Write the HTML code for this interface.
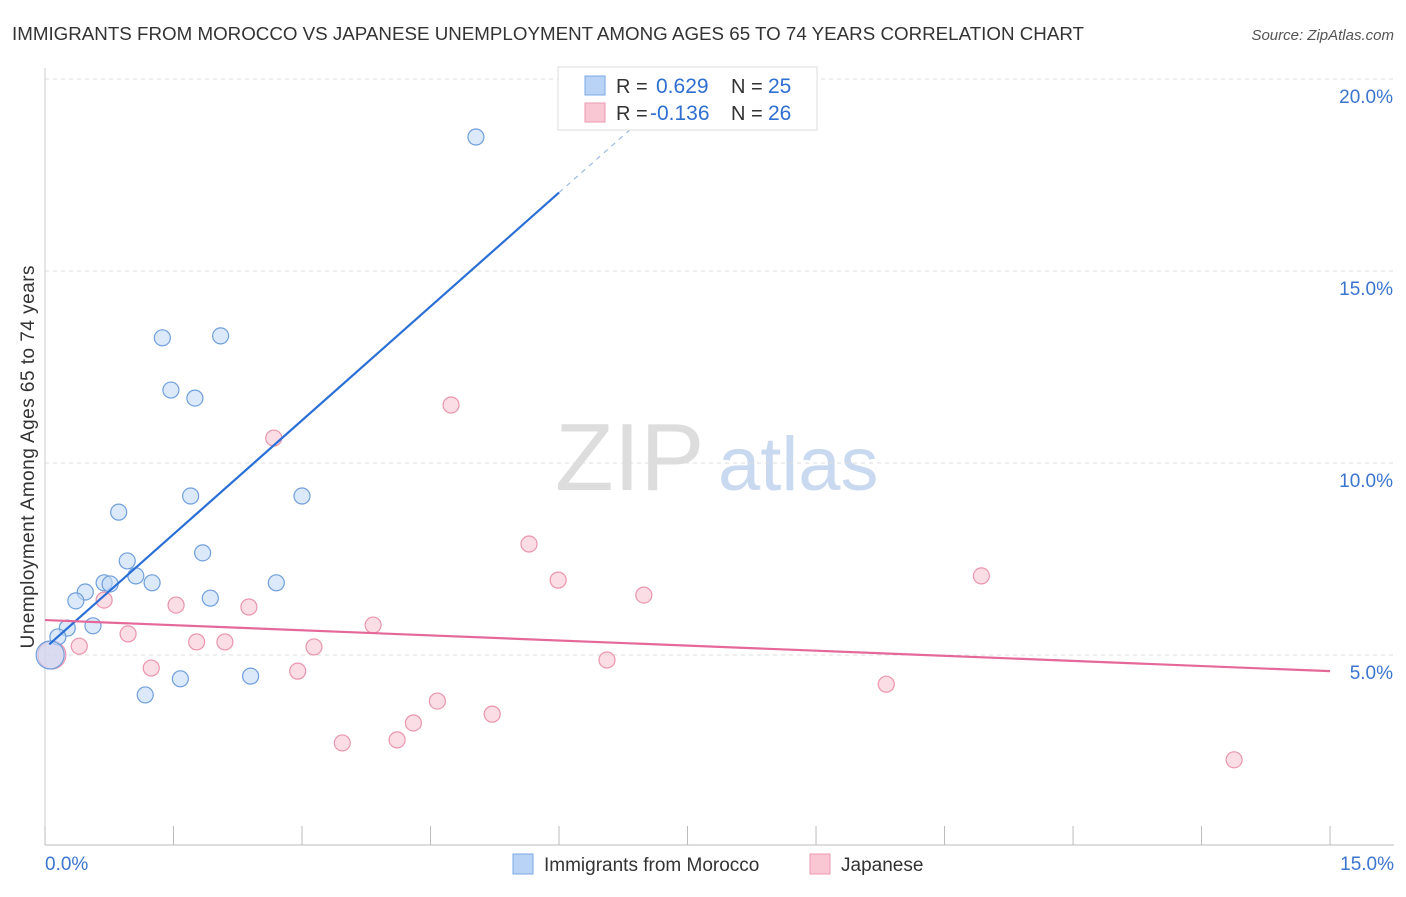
<!DOCTYPE html>
<html><head><meta charset="utf-8"><style>
body{margin:0;background:#fff;font-family:"Liberation Sans",sans-serif;}
svg text{font-family:"Liberation Sans",sans-serif;}
</style></head><body>
<svg id="c" width="1406" height="892" xmlns="http://www.w3.org/2000/svg">
<text x="12" y="40" font-size="18" fill="#333" textLength="1072" lengthAdjust="spacingAndGlyphs">IMMIGRANTS FROM MOROCCO VS JAPANESE UNEMPLOYMENT AMONG AGES 65 TO 74 YEARS CORRELATION CHART</text>
<text x="1394" y="40" font-size="15" fill="#555" font-style="italic" text-anchor="end">Source: ZipAtlas.com</text>
<text x="555" y="490" font-size="96" fill="#ddd" font-family="Liberation Serif">ZIP</text>
<text x="718" y="490" font-size="76" fill="#c9d9ef">atlas</text>
<text transform="translate(34,457) rotate(-90)" font-size="19" fill="#333" text-anchor="middle" textLength="383">Unemployment Among Ages 65 to 74 years</text>
<g id="grid"></g><g id="axes"></g><g id="marks"></g>
<g>
<rect x="558" y="67" width="259" height="63" fill="#fff" stroke="#ddd"/>
<rect x="585" y="76" width="20" height="19" fill="#b8d3f5" stroke="#7aa9e6"/>
<rect x="585" y="103" width="20" height="19" fill="#f9c6d4" stroke="#ee9ab2"/>
<text x="616" y="93" font-size="20" fill="#333">R = </text><text x="656" y="93" font-size="21" fill="#2f6fd0">0.629</text>
<text x="731" y="93" font-size="20" fill="#333">N = </text><text x="768" y="93" font-size="21" fill="#2f6fd0">25</text>
<text x="616" y="120" font-size="20" fill="#333">R = </text><text x="650" y="120" font-size="21" fill="#2f6fd0">-0.136</text>
<text x="731" y="120" font-size="20" fill="#333">N = </text><text x="768" y="120" font-size="21" fill="#2f6fd0">26</text>
</g>
<g>
<rect x="513" y="854" width="20" height="20" fill="#b8d3f5" stroke="#7aa9e6"/>
<text x="544" y="871" font-size="19" fill="#333">Immigrants from Morocco</text>
<rect x="810" y="854" width="20" height="20" fill="#f9c6d4" stroke="#ee9ab2"/>
<text x="841" y="871" font-size="19" fill="#333">Japanese</text>
</g>
</svg>
<script>
const xTicksLabels=["0.0%","15.0%"];
const yTickValues=[5,10,15,20];
const blueX=[5.03,1.37,2.05,1.47,1.75,0.86,1.70,3.00,0.96,1.84,0.69,0.76,1.06,1.25,2.70,0.47,0.36,1.93,0.56,0.26,0.15,0.06,1.17,1.58,2.40];
const blueY=[18.49,13.26,13.31,11.90,11.69,8.72,9.14,9.14,7.45,7.66,6.88,6.85,7.06,6.88,6.88,6.64,6.41,6.48,5.76,5.70,5.47,5.00,3.96,4.38,4.45];
const pinkX=[4.74,2.67,5.65,5.99,6.99,10.93,0.69,1.53,2.38,3.83,0.97,1.77,2.10,0.40,3.14,1.24,2.95,6.56,9.82,4.58,5.22,4.30,4.11,3.47,13.88,0.08];
const pinkY=[11.51,10.65,7.89,6.95,6.56,7.06,6.43,6.30,6.25,5.78,5.55,5.34,5.34,5.23,5.21,4.66,4.58,4.87,4.24,3.80,3.46,3.23,2.79,2.71,2.27,5.00];
const blueTrend=[5.18,1.977];
const pinkTrend=[5.91,-0.0887];
const NS="http://www.w3.org/2000/svg";
const sx=v=>45+v*85.67, sy=v=>847-v*38.4;
function mk(t,a,p){const e=document.createElementNS(NS,t);for(const k in a)e.setAttribute(k,a[k]);p.appendChild(e);return e;}
const grid=document.getElementById('grid'),axes=document.getElementById('axes'),marks=document.getElementById('marks');
yTickValues.forEach(v=>{
 const l=mk('line',{x1:45,x2:1394,y1:sy(v),y2:sy(v),stroke:'#ddd','stroke-dasharray':'4,4'},grid);
 
 const t=mk('text',{x:1393,y:sy(v)+24,'font-size':19,fill:'#3b75cf','text-anchor':'end'},axes);t.textContent=v.toFixed(1)+'%';
 
});
const ax=mk('line',{x1:45,x2:1394,y1:845,y2:845,stroke:'#bbb'},axes);

const ay=mk('line',{x1:45,x2:45,y1:68,y2:845,stroke:'#ccc'},axes);

for(let i=0;i<=10;i++){const tk=mk('line',{x1:sx(i*1.5),x2:sx(i*1.5),y1:826,y2:845,stroke:'#bbb'},axes);
 }
const t0=mk('text',{x:45,y:870,'font-size':19,fill:'#3b75cf'},axes);t0.textContent=xTicksLabels[0];

const t1=mk('text',{x:1394,y:870,'font-size':19,fill:'#3b75cf','text-anchor':'end'},axes);t1.textContent=xTicksLabels[1];

function dots(X,Y,fill,stroke,name){X.forEach((x,i)=>{const big=x<0.1;
 const c=mk('circle',{cx:sx(x),cy:sy(Y[i]),r:big?14:8,fill:fill,'fill-opacity':0.6,stroke:stroke,'stroke-width':1.2},marks);
 });}
dots(pinkX,pinkY,'#f9c6d4','#ea95ad','japanese-point');
dots(blueX,blueY,'#c4dbf7','#6f9fdc','morocco-point');
const bl=mk('line',{x1:sx(0.05),y1:sy(blueTrend[0]+blueTrend[1]*0.05),x2:sx(6),y2:sy(blueTrend[0]+blueTrend[1]*6),stroke:'#2a6fd6','stroke-width':2.2},marks);

const bd=mk('line',{x1:sx(6),y1:sy(blueTrend[0]+blueTrend[1]*6),x2:sx(7),y2:sy(blueTrend[0]+blueTrend[1]*7),stroke:'#9bbbe6','stroke-width':1.2,'stroke-dasharray':'5,5'},marks);

const pl=mk('line',{x1:sx(0),y1:sy(pinkTrend[0]),x2:sx(15),y2:sy(pinkTrend[0]+pinkTrend[1]*15),stroke:'#e5689a','stroke-width':2.2},marks);

</script>
</body></html>
